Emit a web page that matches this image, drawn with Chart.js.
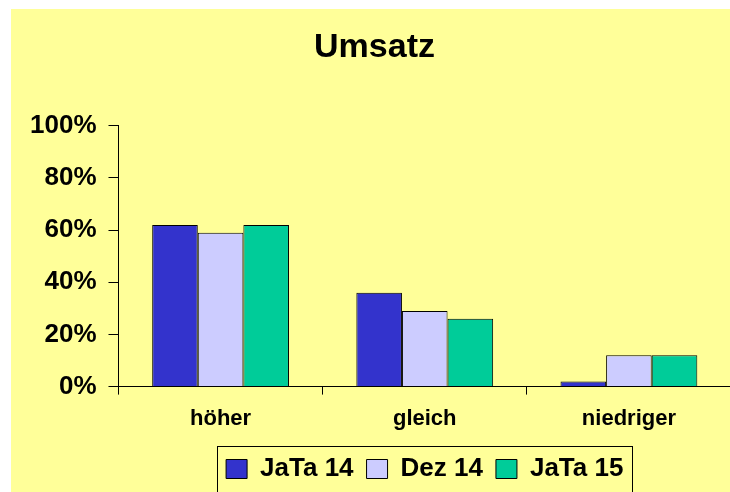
<!DOCTYPE html>
<html>
<head>
<meta charset="utf-8">
<script src="https://cdn.jsdelivr.net/npm/chart.js@4"></script>
<style>
  html, body { margin: 0; padding: 0; background: #ffffff; overflow: hidden; }
  #wrap { position: absolute; left: 11px; top: 9px; width: 747px; height: 483px; background: #ffff99; }
</style>
</head>
<body>
<div id="wrap"><canvas id="chart1"></canvas></div>
<script>
// Daten
const categories = ['höher', 'gleich', 'niedriger'];
const seriesNames = ['JaTa 14', 'Dez 14', 'JaTa 15'];
const jata14 = [62, 36, 2];
const dez14 = [59, 29, 12];
const jata15 = [62, 26, 12];
const yTicks = [0, 20, 40, 60, 80, 100];

const seriesColors = ['#3333cc', '#ccccff', '#00cc99'];
const FONT = "'Liberation Sans', Arial, sans-serif";

// Rahmen um die Legende
const legendFrame = {
  id: 'legendFrame',
  afterDraw(chart) {
    const boxes = chart.legend.legendHitBoxes;
    if (!boxes || !boxes.length) return;
    const first = boxes[0];
    const last = boxes[boxes.length - 1];
    const ctx = chart.ctx;
    const left = first.left - 9;
    const right = last.left + last.width + 9;
    const top = first.top - 10;
    ctx.save();
    ctx.strokeStyle = '#000000';
    ctx.lineWidth = 1;
    ctx.strokeRect(Math.round(left) + 0.5, Math.round(top) + 0.5, Math.round(right - left), chart.height);
    ctx.restore();
  }
};

const ctx1 = document.getElementById('chart1').getContext('2d');
const chart1 = new Chart(ctx1, {
  type: 'bar',
  data: {
    labels: categories,
    datasets: [jata14, dez14, jata15].map((d, i) => ({
      label: seriesNames[i],
      data: d,
      backgroundColor: seriesColors[i],
      borderColor: '#000000',
      borderWidth: 1,
      categoryPercentage: 0.67,
      barPercentage: 1
    }))
  },
  options: {
    responsive: true,
    maintainAspectRatio: false,
    animation: false,
    layout: { padding: { left: 7, right: 27, top: 0, bottom: 0 } },
    plugins: {
      tooltip: { enabled: false },
      title: {
        display: true,
        text: 'Umsatz',
        color: '#000000',
        font: { family: FONT, size: 34, weight: 'bold' },
        padding: { top: 18, bottom: 58 }
      },
      legend: {
        display: true,
        position: 'bottom',
        fullSize: false,
        labels: {
          color: '#000000',
          font: { family: FONT, size: 26, weight: 'bold' },
          boxWidth: 21,
          boxHeight: 19,
          padding: 13
        }
      }
    },
    scales: {
      x: {
        offset: true,
        grid: {
          offset: true,
          drawOnChartArea: false,
          drawTicks: true,
          tickLength: 8,
          color: '#000000'
        },
        border: { color: '#000000', width: 1 },
        ticks: {
          color: '#000000',
          font: { family: FONT, size: 22, weight: 'bold' },
          padding: 11,
          maxRotation: 0
        }
      },
      y: {
        min: 0,
        max: 100,
        afterBuildTicks(scale) {
          scale.ticks = yTicks.map(v => ({ value: v }));
        },
        grid: {
          drawOnChartArea: false,
          drawTicks: true,
          tickLength: 10,
          color: '#000000'
        },
        border: { color: '#000000', width: 1 },
        ticks: {
          color: '#000000',
          font: { family: FONT, size: 26, weight: 'bold' },
          padding: 12,
          callback: v => v + '%'
        }
      }
    }
  },
  plugins: [legendFrame]
});
</script>
</body>
</html>
